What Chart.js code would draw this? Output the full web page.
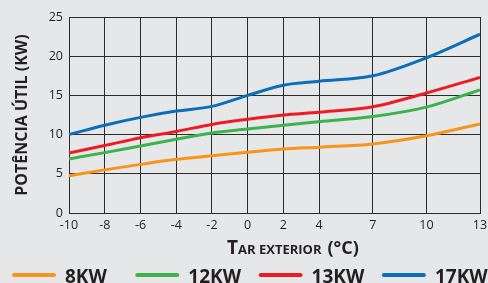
<!DOCTYPE html>
<html>
<head>
<meta charset="utf-8">
<script src="https://cdn.jsdelivr.net/npm/chart.js@4"></script>
<style>
  html, body { margin: 0; padding: 0; background: #e6e7e8; }
  #wrap { width: 488px; height: 283px; position: relative; }
</style>
</head>
<body>
<div id="wrap"><canvas id="c" width="488" height="283"></canvas></div>
<script>
// ---- data ----
const temps = [-10, -8, -6, -4, -2, 0, 2, 4, 7, 10, 13];
const xTickValues = [-10, -8, -6, -4, -2, 0, 2, 4, 7, 10, 13];
const yTickValues = [0, 5, 10, 15, 20, 25];
const seriesNames = ['8KW', '12KW', '13KW', '17KW'];
const kw8  = [4.75, 5.5, 6.2, 6.85, 7.3, 7.75, 8.15, 8.4, 8.8, 9.85, 11.35];
const kw12 = [6.9, 7.7, 8.55, 9.4, 10.2, 10.7, 11.2, 11.65, 12.3, 13.5, 15.7];
const kw13 = [7.65, 8.6, 9.6, 10.4, 11.3, 11.95, 12.5, 12.85, 13.55, 15.3, 17.3];
const kw17 = [10.0, 11.2, 12.2, 13.0, 13.6, 15.0, 16.3, 16.8, 17.5, 19.8, 22.8];
const colors = ['#f7941d', '#3cb44b', '#ed1c24', '#0a6fb8'];

const seriesValues = [kw8, kw12, kw13, kw17];
const datasets = seriesValues.map((vals, i) => ({
  label: seriesNames[i],
  data: temps.map((t, j) => ({ x: t, y: vals[j] })),
  borderColor: colors[i],
  backgroundColor: colors[i],
  borderWidth: 3,
  pointRadius: 0,
  cubicInterpolationMode: 'monotone',
  fill: false
}));

const textColor = '#231f20';
const FONT = "'Open Sans', 'DejaVu Sans', sans-serif";

const extrasPlugin = {
  id: 'extras',
  afterDraw(chart) {
    const ctx = chart.ctx;
    ctx.save();
    ctx.fillStyle = textColor;
    ctx.textBaseline = 'alphabetic';
    ctx.textAlign = 'left';
    // x axis title with mixed sizes
    let x = 227;
    const base = 254;
    ctx.font = "bold 19px " + FONT;
    ctx.fillText('T', x, base);
    x += ctx.measureText('T').width;
    ctx.font = "bold 13px " + FONT;
    ctx.fillText('AR EXTERIOR', x, base);
    x += ctx.measureText('AR EXTERIOR').width + 6;
    ctx.font = "bold 18px " + FONT;
    ctx.fillText('(°C)', x, base);

    // legend
    chart.data.datasets.forEach((ds, i) => {
      const lx = 13 + i * 123.3;
      const ly = 275;
      ctx.strokeStyle = ds.borderColor;
      ctx.lineWidth = 4;
      ctx.lineCap = 'round';
      ctx.beginPath();
      ctx.moveTo(lx + 1, ly);
      ctx.lineTo(lx + 41, ly);
      ctx.stroke();
      ctx.font = "bold 19px " + FONT;
      ctx.fillStyle = textColor;
      ctx.fillText(ds.label, lx + 52, 283);
    });
    ctx.restore();
  }
};

new Chart(document.getElementById('c'), {
  type: 'line',
  data: { datasets },
  plugins: [extrasPlugin],
  options: {
    responsive: false,
    animation: false,
    events: [],
    layout: { padding: { left: 0, right: 8, top: 17, bottom: 0 } },
    plugins: { legend: { display: false }, tooltip: { enabled: false } },
    scales: {
      x: {
        type: 'linear',
        min: -10, max: 13,
        afterBuildTicks(scale) { scale.ticks = xTickValues.map(v => ({ value: v })); },
        afterFit(scale) { scale.height = 70; scale.paddingRight = 0; },
        grid: { color: '#2b2b2b', lineWidth: 1, drawTicks: false },
        border: { color: '#2b2b2b', width: 1 },
        ticks: {
          padding: 5,
          color: textColor,
          font: { family: FONT, size: 12.5 },
          maxRotation: 0,
          autoSkip: false
        }
      },
      y: {
        min: 0, max: 25,
        afterBuildTicks(scale) { scale.ticks = yTickValues.map(v => ({ value: v })); },
        afterFit(scale) { scale.width = 69; },
        grid: { color: '#2b2b2b', lineWidth: 1, drawTicks: false },
        border: { color: '#2b2b2b', width: 1 },
        ticks: {
          padding: 6,
          color: textColor,
          font: { family: FONT, size: 12.5 }
        },
        title: {
          display: true,
          text: 'POTÊNCIA ÚTIL (KW)',
          color: textColor,
          font: { family: FONT, size: 16, weight: 'bold' },
          padding: { top: 13, bottom: 0 }
        }
      }
    }
  }
});
</script>
</body>
</html>
